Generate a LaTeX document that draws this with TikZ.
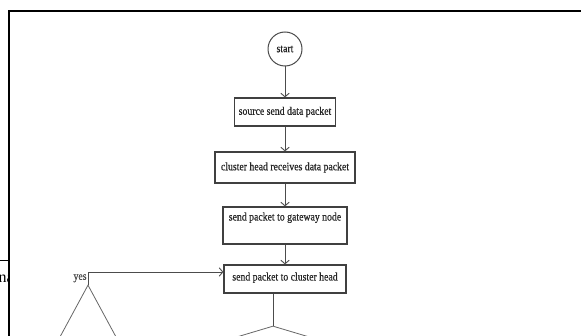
\documentclass[tikz,border=0pt]{standalone}
\usepackage{fontspec}
\setmainfont{Liberation Serif}
\newfontfamily\boxfont[FakeStretch=0.85, FakeBold=0.5]{Liberation Serif}
\usetikzlibrary{shapes.geometric, arrows.meta}
\tikzstyle{startstop} = [circle, minimum size=34pt, inner sep=0pt, text centered, draw=black!70, line width=1pt]
\tikzstyle{process} = [rectangle, minimum height=28pt, inner sep=2pt, text centered, draw=black!75, line width=1.3pt]
\tikzstyle{decision} = [diamond, inner sep=0pt, draw=black!60, line width=0.8pt]
\tikzstyle{arrow} = [black!70, line width=0.9pt, ->, >={Straight Barb[angle=100:5.5pt]}]
\tikzstyle{line} = [black!70, line width=0.9pt]

\begin{document}
\begin{tikzpicture}[x=1pt, y=1pt, node distance=57pt, font=\boxfont\fontsize{11.5}{13}\selectfont, text=black!85]

	\useasboundingbox (0,0) rectangle (581,335);
	\clip (0,0) rectangle (581,335);

	% page text and frame
	\node (cut) [anchor=base west, inner sep=0pt, text=black, font=\rmfamily\fontsize{16}{18}\selectfont] at (-1.5,52.5) {na};
	\draw [black, line width=0.8pt] (0,74.3) -- (9,74.3);
	\draw [black, line width=2pt, fill=white] (9,-10) -- (9,324.3) -- (600,324.3);

	\node (start) [startstop] at (285,286) {start};
	\node (source) [process, below of=start, node distance=63pt, minimum width=101pt] {source send data packet};
	\node (receive) [process, below of=source, node distance=55.5pt, minimum width=140pt, minimum height=31pt] {cluster head receives data packet};
	\node (gateway) [process, below of=receive, node distance=58pt, minimum width=124pt, minimum height=37pt, text depth=18pt] {send packet to gateway node};
	\node (head) [process, below of=gateway, node distance=53.5pt, minimum width=122pt, text depth=5pt] {send packet to cluster head};
	\node (check) [decision, minimum width=64pt, minimum height=118pt] at (88,-9) {};
	\node (route) [decision, minimum width=160pt, minimum height=48pt] at (273,-15) {};

	\draw [arrow] (start) -- (source);
	\draw [arrow] (source) -- (receive);
	\draw [arrow] (receive) -- (gateway);
	\draw [arrow] (gateway) -- (head);
	\draw [line] (head.south -| route.north) -- (route.north);
	\draw [arrow] (check.north) |- node[pos=0.25, left, name=yes, inner sep=1pt] {yes} ([yshift=7pt]head.west);

\end{tikzpicture}
\end{document}
